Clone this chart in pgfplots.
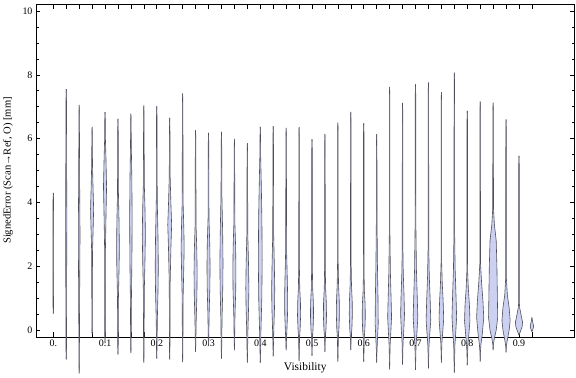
\documentclass[border=0pt]{standalone}
\usepackage{fontspec}
\setmainfont{Liberation Serif}
\usepackage{pgfplots}
\pgfplotsset{compat=1.18}
\usepgfplotslibrary{fillbetween}
\definecolor{vfillc}{RGB}{204,209,242}
\definecolor{vlinec}{RGB}{80,80,92}
\newcommand\pxw{0.00150}
\newcommand\vio[3]{%
 \addplot[vlinec, line width=0.6pt, mark=none, line join=round, name path=R#1] table[x expr={#2+\thisrow{w}*\pxw}, y=y, row sep=\\]{y w\\ #3};
 \addplot[vlinec, line width=0.6pt, mark=none, line join=round, name path=L#1] table[x expr={#2-\thisrow{w}*\pxw}, y=y, row sep=\\]{y w\\ #3};
 \addplot[fill=vfillc, draw=none] fill between[of=R#1 and L#1];
}
\begin{document}
\begin{tikzpicture}
\begin{axis}[name=ax, scale only axis, width=538.5bp, height=332.5bp,
 xmin=-0.0334, xmax=1.0073, ymin=-0.21, ymax=10.21, clip=false,
 axis line style={line width=0.6pt, black},
 xtick={0,0.025,0.05,0.075,0.1,0.125,0.15,0.175,0.2,0.225,0.25,0.275,0.3,0.325,0.35,0.375,0.4,0.425,0.45,0.475,0.5,0.525,0.55,0.575,0.6,0.625,0.65,0.675,0.7,0.725,0.75,0.775,0.8,0.825,0.85,0.875,0.9,0.925},
 xticklabels={0.,{},{},{},0.1,{},{},{},0.2,{},{},{},0.3,{},{},{},0.4,{},{},{},0.5,{},{},{},0.6,{},{},{},0.7,{},{},{},0.8,{},{},{},0.9,{}},
 ytick={0,2,4,6,8,10}, minor y tick num=3,
 major tick length=4.5bp, minor tick length=2.7bp,
 tick style={line width=0.6pt, black},
 /pgf/number format/assume math mode=true,
 tick label style={font=\fontsize{10}{11}\selectfont},
 xlabel={Visibility}, ylabel={SignedError (Scan→Ref, O) [mm]},
 xlabel style={font=\fontsize{11.5}{13}\selectfont, at={(axis description cs:0.5,0)}, anchor=center, yshift=-31bp},
 ylabel style={font=\fontsize{10.6}{12}\selectfont, at={(axis description cs:-0.052,0.5)}, anchor=center},
]
\vio{0}{0}{0.52 0\\ 0.7 0.3\\ 2.4 0.5\\ 4.1 0.3\\ 4.30 0\\}
\vio{1}{0.025}{-0.92 0\\ -0.6 0.3\\ 1.0 0.5\\ 3.5 0.8\\ 5.5 0.5\\ 7.2 0.3\\ 7.55 0\\}
\vio{2}{0.05}{-1.36 0\\ -1.0 0.3\\ 0.5 0.5\\ 3.0 1.1\\ 4.8 0.6\\ 6.7 0.3\\ 7.06 0\\}
\vio{3}{0.075}{-0.13 0\\ 0.1 0.3\\ 2.4 0.5\\ 3.2 1.4\\ 3.8 2.0\\ 4.4 1.3\\ 5.2 0.5\\ 6.1 0.3\\ 6.37 0\\}
\vio{4}{0.1}{-0.41 0\\ -0.2 0.3\\ 2.5 0.5\\ 3.5 1.2\\ 4.5 2.0\\ 5.4 1.2\\ 6.0 0.5\\ 6.6 0.3\\ 6.83 0\\}
\vio{5}{0.125}{-0.76 0\\ -0.5 0.3\\ 1.0 0.6\\ 2.0 1.5\\ 2.6 1.8\\ 3.4 1.4\\ 4.3 0.6\\ 6.3 0.3\\ 6.62 0\\}
\vio{6}{0.15}{-0.71 0\\ -0.5 0.3\\ 0.8 0.6\\ 2.2 1.3\\ 3.5 1.6\\ 4.8 1.2\\ 5.8 0.5\\ 6.5 0.3\\ 6.78 0\\}
\vio{7}{0.175}{-1.02 0\\ -0.7 0.3\\ 1.2 0.6\\ 2.2 1.5\\ 3.0 2.0\\ 3.8 1.5\\ 4.6 0.6\\ 6.7 0.3\\ 7.04 0\\}
\vio{8}{0.2}{-0.89 0\\ -0.6 0.3\\ 0.3 0.7\\ 1.2 1.6\\ 2.0 2.0\\ 2.9 1.6\\ 4.1 0.6\\ 6.7 0.3\\ 7.01 0\\}
\vio{9}{0.225}{-0.92 0\\ -0.6 0.3\\ 1.5 0.6\\ 2.6 1.6\\ 3.3 2.5\\ 4.0 1.5\\ 4.8 0.6\\ 6.3 0.3\\ 6.65 0\\}
\vio{10}{0.25}{-1.0 0\\ -0.7 0.3\\ 1.0 0.6\\ 2.0 1.5\\ 2.6 2.0\\ 3.2 1.5\\ 4.0 0.6\\ 7.1 0.3\\ 7.42 0\\}
\vio{11}{0.275}{-0.68 0\\ -0.4 0.3\\ 0.3 0.8\\ 1.1 1.7\\ 1.8 2.0\\ 2.5 1.6\\ 3.3 0.6\\ 6.0 0.3\\ 6.27 0\\}
\vio{12}{0.3}{-0.49 0\\ -0.3 0.3\\ 0.5 0.8\\ 1.3 1.7\\ 2.0 2.0\\ 2.7 1.6\\ 3.5 0.6\\ 5.9 0.3\\ 6.18 0\\}
\vio{13}{0.325}{-0.89 0\\ -0.6 0.3\\ 0.4 0.8\\ 1.3 1.7\\ 2.1 2.0\\ 3.0 1.6\\ 4.2 0.6\\ 5.9 0.3\\ 6.21 0\\}
\vio{14}{0.35}{-0.63 0\\ -0.33 0.3\\ 0.5 0.8\\ 1.2 1.7\\ 1.9 2.0\\ 2.6 1.6\\ 3.4 0.6\\ 5.69 0.3\\ 5.99 0\\}
\vio{15}{0.375}{-1.02 0\\ -0.7 0.3\\ 0.0 0.8\\ 0.7 1.6\\ 1.3 2.0\\ 2.0 1.6\\ 3.0 0.6\\ 5.6 0.3\\ 5.86 0\\}
\vio{16}{0.4}{-1.02 0\\ -0.7 0.3\\ 0.0 0.9\\ 1.0 2.0\\ 2.2 2.5\\ 3.5 2.1\\ 4.6 1.3\\ 5.5 0.5\\ 6.1 0.3\\ 6.37 0\\}
\vio{17}{0.425}{-0.82 0\\ -0.52 0.3\\ 0.1 0.9\\ 0.7 1.7\\ 1.3 2.0\\ 2.0 1.5\\ 3.0 0.6\\ 6.09 0.3\\ 6.39 0\\}
\vio{18}{0.45}{-0.63 0\\ -0.4 0.3\\ 0.0 1.0\\ 0.5 1.8\\ 1.0 2.0\\ 1.6 1.5\\ 2.5 0.6\\ 6.0 0.3\\ 6.34 0\\}
\vio{19}{0.475}{-0.97 0\\ -0.67 0.3\\ -0.25 0.6\\ 0.05 1.4\\ 0.45 2.0\\ 0.85 1.8\\ 1.3 0.9\\ 2.0 0.4\\ 6.06 0.3\\ 6.36 0\\}
\vio{20}{0.5}{-0.80 0\\ -0.50 0.3\\ -0.25 0.6\\ 0.05 1.4\\ 0.45 2.0\\ 0.85 1.8\\ 1.3 0.9\\ 2.0 0.4\\ 5.68 0.3\\ 5.98 0\\}
\vio{21}{0.525}{-0.68 0\\ -0.38 0.3\\ -0.2 0.6\\ 0.05 1.4\\ 0.45 2.0\\ 0.85 1.8\\ 1.3 0.9\\ 2.0 0.4\\ 5.84 0.3\\ 6.14 0\\}
\vio{22}{0.55}{-0.99 0\\ -0.69 0.3\\ -0.25 0.6\\ 0.05 1.4\\ 0.5 2.0\\ 0.9 1.8\\ 1.4 0.9\\ 2.1 0.4\\ 6.20 0.3\\ 6.50 0\\}
\vio{23}{0.575}{-0.63 0\\ -0.33 0.3\\ -0.2 0.6\\ 0.05 1.4\\ 0.5 2.0\\ 0.9 1.8\\ 1.4 0.9\\ 2.1 0.4\\ 6.54 0.3\\ 6.84 0\\}
\vio{24}{0.6}{-0.99 0\\ -0.69 0.3\\ -0.25 0.6\\ 0.0 1.4\\ 0.4 2.0\\ 0.8 1.8\\ 1.2 0.9\\ 1.8 0.4\\ 6.18 0.3\\ 6.48 0\\}
\vio{25}{0.625}{-1.02 0\\ -0.72 0.3\\ -0.3 1.0\\ 0.2 2.0\\ 1.0 1.7\\ 2.0 1.0\\ 3.3 0.5\\ 5.84 0.3\\ 6.14 0\\}
\vio{26}{0.65}{-1.23 0\\ -0.93 0.3\\ -0.5 0.6\\ -0.1 1.5\\ 0.4 2.5\\ 1.0 1.9\\ 1.8 1.0\\ 3.0 0.4\\ 7.32 0.3\\ 7.62 0\\}
\vio{27}{0.675}{-1.08 0\\ -0.78 0.3\\ -0.4 0.6\\ 0.0 1.6\\ 0.5 2.5\\ 1.1 1.9\\ 1.8 0.9\\ 2.6 0.4\\ 6.82 0.3\\ 7.12 0\\}
\vio{28}{0.7}{-1.25 0\\ -0.95 0.3\\ -0.5 0.7\\ -0.1 1.8\\ 0.4 3.0\\ 1.0 2.3\\ 1.9 1.2\\ 3.5 0.4\\ 7.40 0.3\\ 7.70 0\\}
\vio{29}{0.725}{-1.20 0\\ -0.90 0.3\\ -0.5 0.7\\ -0.1 1.8\\ 0.3 3.0\\ 0.9 2.3\\ 1.7 1.1\\ 2.6 0.4\\ 7.46 0.3\\ 7.76 0\\}
\vio{30}{0.75}{-1.02 0\\ -0.72 0.3\\ -0.4 0.7\\ -0.05 1.8\\ 0.35 3.0\\ 0.9 2.3\\ 1.5 1.1\\ 2.1 0.4\\ 7.16 0.3\\ 7.46 0\\}
\vio{31}{0.775}{-1.33 0\\ -1.03 0.3\\ -0.5 0.7\\ -0.1 1.8\\ 0.4 3.0\\ 1.0 2.3\\ 1.9 1.1\\ 3.1 0.4\\ 7.77 0.3\\ 8.07 0\\}
\vio{32}{0.8}{-1.10 0\\ -0.80 0.3\\ -0.45 0.8\\ -0.1 2.2\\ 0.3 3.5\\ 0.8 2.8\\ 1.3 1.4\\ 1.9 0.4\\ 6.57 0.3\\ 6.87 0\\}
\vio{33}{0.825}{-0.99 0\\ -0.69 0.3\\ -0.45 1.0\\ -0.1 2.8\\ 0.4 4.6\\ 0.9 3.6\\ 1.5 1.8\\ 2.1 0.4\\ 6.87 0.3\\ 7.17 0\\}
\vio{34}{0.85}{-0.63 0\\ -0.45 0.4\\ -0.25 1.7\\ 0.0 4.0\\ 0.4 5.9\\ 1.0 5.5\\ 2.0 4.9\\ 2.8 4.0\\ 3.3 1.7\\ 3.8 0.5\\ 6.8 0.3\\ 7.13 0\\}
\vio{35}{0.875}{-0.70 0\\ -0.5 0.4\\ -0.3 1.7\\ 0.0 4.0\\ 0.3 5.3\\ 0.7 4.0\\ 1.1 1.7\\ 1.6 0.5\\ 6.3 0.3\\ 6.60 0\\}
\vio{36}{0.9}{-0.16 0\\ -0.05 1.7\\ 0.1 4.0\\ 0.25 4.6\\ 0.45 2.9\\ 0.7 0.9\\ 0.9 0.3\\ 5.2 0.3\\ 5.46 0\\}
\vio{37}{0.925}{-0.05 0\\ 0.05 1.6\\ 0.12 2.2\\ 0.22 1.3\\ 0.32 0.5\\ 0.40 0\\}
\end{axis}
\pgfresetboundingbox
\path ([shift={(-36bp,-40.3bp)}]ax.south west) rectangle ([shift={(1.5bp,4.3bp)}]ax.north east);
\end{tikzpicture}
\end{document}
